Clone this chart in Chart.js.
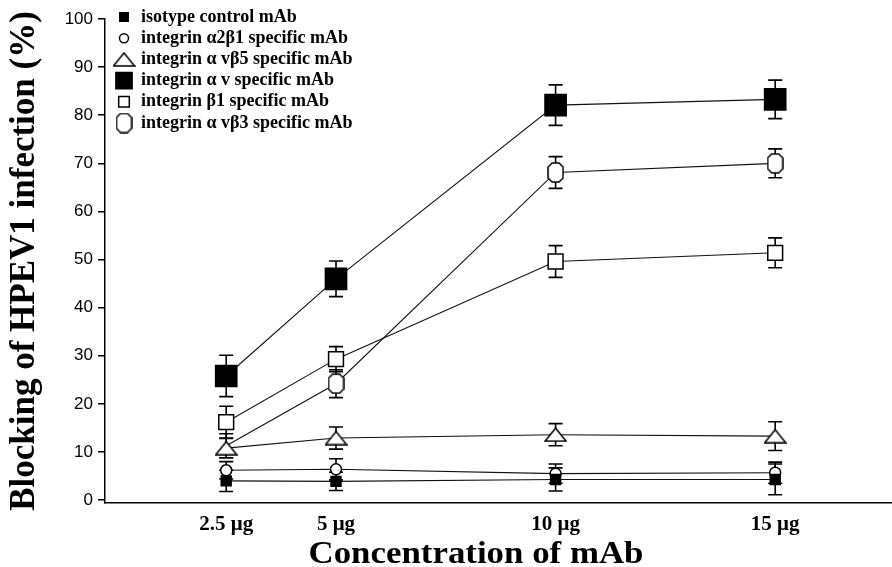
<!DOCTYPE html>
<html lang="en">
<head>
<meta charset="UTF-8">
<title>Blocking of HPEV1 infection</title>
<script src="https://cdn.jsdelivr.net/npm/chart.js"></script>
<style>
  html, body { margin: 0; padding: 0; background: #fff; }
  #wrap { width: 892px; height: 567px; position: relative; }
</style>
</head>
<body>
<div id="wrap"><canvas id="chart"></canvas></div>
<script>
// mAb concentrations (ug) and axis labels
const concentrations = [2.5, 5, 10, 15];
const xTickLabels = ['2.5 μg', '5 μg', '10 μg', '15 μg'];
const yTicks = [0, 10, 20, 30, 40, 50, 60, 70, 80, 90, 100];
const xTitle = 'Concentration of mAb';
const yTitle = 'Blocking of HPEV1 infection (%)';

const seriesNames = [
  'isotype control mAb',
  'integrin α2β1 specific mAb',
  'integrin α vβ5 specific mAb',
  'integrin α v specific mAb',
  'integrin β1 specific mAb',
  'integrin α vβ3 specific mAb'
];

// % blocking, with error bar half-heights
const isotype = [4.0, 3.9, 4.3, 4.3];
const isotypeErr = [2.2, 1.9, 2.4, 3.2];
const a2b1 = [6.2, 6.4, 5.5, 5.7];
const a2b1Err = [1.8, 2.2, 2.0, 2.2];
const avb5 = [10.8, 12.9, 13.6, 13.3];
const avb5Err = [2.0, 2.3, 2.3, 3.0];
const av = [25.8, 46.0, 82.1, 83.3];
const avErr = [4.3, 3.7, 4.2, 4.0];
const b1 = [16.2, 29.3, 49.6, 51.4];
const b1Err = [3.3, 2.6, 3.3, 3.1];
const avb3 = [11.3, 24.2, 68.1, 70.0];
const avb3Err = [2.5, 2.9, 3.3, 3.0];

const SERIF = '"Liberation Serif", "Times New Roman", serif';

function makeMarker(w, h, draw) {
  const c = document.createElement('canvas');
  c.width = w; c.height = h;
  const g = c.getContext('2d');
  g.fillStyle = '#fff'; g.strokeStyle = '#000'; g.lineWidth = 1.5;
  draw(g, w, h);
  return c;
}
// flat triangle and tall octagon markers like the original figure
const triangleMark = makeMarker(23, 15, (g, w, h) => {
  g.beginPath(); g.moveTo(w / 2, 1); g.lineTo(w - 1, h - 1); g.lineTo(1, h - 1);
  g.closePath(); g.fill(); g.stroke();
});
const octagonMark = makeMarker(17, 21, (g, w, h) => {
  const k = 4;
  g.beginPath();
  g.moveTo(1 + k, 1); g.lineTo(w - 1 - k, 1); g.lineTo(w - 1, 1 + k); g.lineTo(w - 1, h - 1 - k);
  g.lineTo(w - 1 - k, h - 1); g.lineTo(1 + k, h - 1); g.lineTo(1, h - 1 - k); g.lineTo(1, 1 + k);
  g.closePath(); g.fill(); g.stroke();
});

function toPoints(vals) {
  return concentrations.map((c, i) => ({ x: c, y: vals[i] }));
}

function series(i, vals, errs, style, extra) {
  return Object.assign({
    label: seriesNames[i],
    data: toPoints(vals),
    errors: errs,
    borderColor: '#111',
    borderWidth: 1.1,
    tension: 0,
    pointStyle: style,
    pointBorderColor: '#000',
    pointBorderWidth: 1.5,
    pointBackgroundColor: '#fff'
  }, extra);
}

const datasets = [
  series(0, isotype, isotypeErr, 'rect', { pointRadius: 7, pointBackgroundColor: '#000', legendRadius: 6 }),
  series(1, a2b1, a2b1Err, 'circle', { pointRadius: 5.5, legendRadius: 4.5 }),
  series(2, avb5, avb5Err, triangleMark, { pointRadius: 8 }),
  series(3, av, avErr, 'rect', { pointRadius: 15, pointBackgroundColor: '#000', legendRadius: 11.5 }),
  series(4, b1, b1Err, 'rect', { pointRadius: 10.5, legendRadius: 7.5 }),
  // first αvβ3 marker sits hidden under the triangle in the original
  series(5, avb3, avb3Err, octagonMark, { pointRadius: [0, 8, 8, 8] })
];

const errorBarPlugin = {
  id: 'errorBars',
  beforeDatasetsDraw(chart) {
    const { ctx } = chart;
    const y = chart.scales.y;
    ctx.save();
    ctx.strokeStyle = '#000';
    ctx.lineWidth = 1.6;
    chart.data.datasets.forEach((ds, i) => {
      const meta = chart.getDatasetMeta(i);
      meta.data.forEach((pt, j) => {
        const v = ds.data[j].y, e = ds.errors[j];
        const top = y.getPixelForValue(v + e), bot = y.getPixelForValue(v - e);
        ctx.beginPath();
        ctx.moveTo(pt.x, top); ctx.lineTo(pt.x, bot);
        ctx.moveTo(pt.x - 7, top); ctx.lineTo(pt.x + 7, top);
        ctx.moveTo(pt.x - 7, bot); ctx.lineTo(pt.x + 7, bot);
        ctx.stroke();
      });
    });
    ctx.restore();
  }
};

const legendPlugin = {
  id: 'figLegend',
  afterDraw(chart) {
    const { ctx, chartArea } = chart;
    const helpers = Chart.helpers;
    ctx.save();
    ctx.font = 'bold 18px ' + SERIF;
    ctx.textBaseline = 'middle';
    chart.data.datasets.forEach((ds, i) => {
      const x = chartArea.left + 19;
      const y = chartArea.top - 2 + i * 21.2;
      if (helpers && helpers.drawPoint) {
        ctx.fillStyle = ds.pointBackgroundColor;
        ctx.strokeStyle = ds.pointBorderColor;
        ctx.lineWidth = 1.5;
        helpers.drawPoint(ctx, {
          pointStyle: ds.pointStyle,
          radius: ds.legendRadius || 8,
          rotation: 0,
          borderWidth: 1.5
        }, x, y);
      }
      ctx.fillStyle = '#000';
      ctx.fillText(ds.label, chartArea.left + 36, y);
    });
    ctx.restore();
  }
};

// x axis title sits a little left of the axis centre in the original
const xTitlePlugin = {
  id: 'xTitle',
  afterDraw(chart) {
    const { ctx } = chart;
    ctx.save();
    ctx.font = 'bold 31px ' + SERIF;
    ctx.fillStyle = '#000';
    ctx.textBaseline = 'alphabetic';
    ctx.textAlign = 'center';
    const w = ctx.measureText(xTitle).width;
    ctx.translate(476, 563);
    ctx.scale(335 / w, 1);
    ctx.fillText(xTitle, 0, 0);
    ctx.restore();
  }
};

new Chart(document.getElementById('chart'), {
  type: 'line',
  data: { datasets },
  plugins: [errorBarPlugin, legendPlugin, xTitlePlugin],
  options: {
    responsive: true,
    maintainAspectRatio: false,
    animation: false,
    layout: { autoPadding: false, padding: { top: 19, right: 0, left: 0, bottom: 0 } },
    plugins: { legend: { display: false }, tooltip: { enabled: false } },
    scales: {
      x: {
        type: 'linear',
        min: -0.26,
        max: 17.66,
        afterBuildTicks: (scale) => { scale.ticks = concentrations.map(v => ({ value: v })); },
        afterFit: (scale) => { scale.height = 64; scale.paddingRight = 0; scale.paddingLeft = 0; },
        grid: { display: false },
        border: { display: true, color: '#000', width: 1.5 },
        ticks: {
          color: '#000',
          padding: 1,
          maxRotation: 0,
          font: { family: SERIF, size: 21, weight: 'bold' },
          callback: (v, i) => xTickLabels[i]
        }
      },
      y: {
        min: -0.6,
        max: 100,
        afterBuildTicks: (scale) => { scale.ticks = yTicks.map(v => ({ value: v })); },
        afterFit: (scale) => { scale.width = 105; },
        grid: { drawOnChartArea: false, drawTicks: true, tickLength: 7, color: '#000', lineWidth: 1.5 },
        border: { display: true, color: '#000', width: 1.5 },
        ticks: {
          color: '#000',
          padding: 5,
          font: { family: '"Liberation Sans", Arial, sans-serif', size: 17 }
        },
        title: {
          display: true,
          text: yTitle,
          color: '#000',
          padding: { top: 4, bottom: 0 },
          font: { family: SERIF, size: 35, weight: 'bold' }
        }
      }
    }
  }
});
</script>
</body>
</html>
